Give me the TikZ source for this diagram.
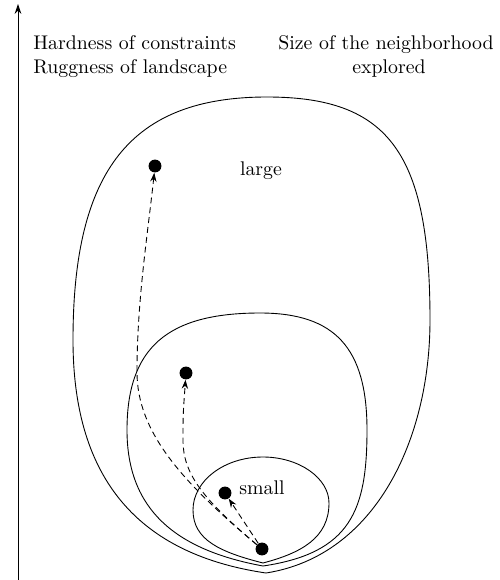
\documentclass[tikz,border=0pt]{standalone}
\usetikzlibrary{arrows.meta}
\begin{document}
\begin{tikzpicture}[x=0.505pt,y=-0.505pt,
  contour/.style={line width=0.45pt,line join=round},
  dot/.style={circle,fill=black,inner sep=0pt,minimum size=6.5pt},
  move/.style={dashed,dash pattern=on 3pt off 2pt,line width=0.45pt,-{Stealth[length=4.5pt,width=3.2pt]}},
  lbl/.style={inner sep=0pt,font=\normalsize}]
\useasboundingbox (0,0) rectangle (499,580);
% axis
\coordinate (axb) at (18,580);
\coordinate (axt) at (18,4);
\draw[line width=0.5pt,-{Stealth[length=5pt,width=3.4pt]}] (axb) -- (axt);
% headings
\node[lbl,anchor=base west] (h1) at (33,49) {Hardness of constraints};
\node[lbl,anchor=base west] (h2) at (33,73) {Ruggness of landscape};
\node[lbl,anchor=base] (s1) at (386,49) {Size of the neighborhood};
\node[lbl,anchor=base] (s2) at (389,73) {explored};
% outer contour (large neighbourhood)
\draw[contour] (266,573) .. controls (130,553) and (73,470) .. (73,340)
  .. controls (73,170) and (131,97) .. (267,97)
  .. controls (389,97) and (430,153) .. (430,320)
  .. controls (430,440) and (375,556) .. (266,573) -- cycle;
% middle contour
\draw[contour] (263,566) .. controls (176,550) and (127,510) .. (127,430)
  .. controls (127,348) and (167,313) .. (260,313)
  .. controls (335,313) and (367,348) .. (367,430)
  .. controls (367,510) and (351,553) .. (263,566) -- cycle;
% small contour
\draw[contour] (263,563) .. controls (220,552) and (193,540) .. (193,510)
  .. controls (193,481) and (224,457) .. (263,457)
  .. controls (299,457) and (329,478) .. (329,503)
  .. controls (329,538) and (301,553) .. (263,563) -- cycle;
% labels
\node[lbl,anchor=base] (large) at (261,175) {large};
\node[lbl,anchor=base] (small) at (262,494) {small};
% dots
\node[dot] (st) at (262,549) {};
\node[dot] (dl) at (155,166) {};
\node[dot] (dm) at (186,373) {};
\node[dot] (ds) at (225,493) {};
% moves
\coordinate (wa) at (137,372);
\coordinate (wb) at (183,440);
\draw[move] (st) .. controls (182,482) and (137,432) .. (wa) .. controls (137,300) and (148,232) .. (dl);
\draw[move] (st) .. controls (200,497) and (183,472) .. (wb) .. controls (183,415) .. (dm);
\draw[move] (st) -- (ds);
\end{tikzpicture}
\end{document}
